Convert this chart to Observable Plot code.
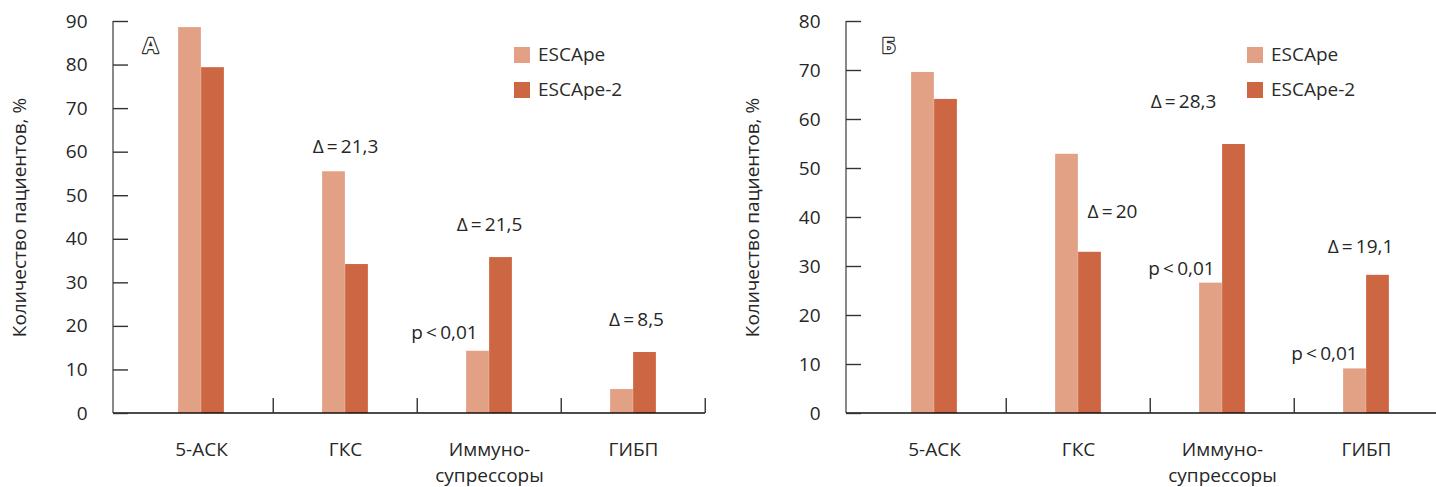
<!DOCTYPE html>
<html><head><meta charset="utf-8">
<script src="https://cdn.jsdelivr.net/npm/d3@7"></script>
<script src="https://cdn.jsdelivr.net/npm/@observablehq/plot@0.6"></script>
<style>
body{margin:0;background:#fff;overflow:hidden;font-family:"Open Sans",sans-serif;}
#wrap{position:relative;width:1436px;height:487px;overflow:hidden;}
.panel{position:absolute;top:0;width:733px;height:487px;}
.lg{position:absolute;font-size:19px;color:#2b2b2b;line-height:16px;white-space:nowrap;}
.sw{position:absolute;width:16px;height:16px;}
</style></head><body><div id="wrap"></div>
<script>
const categories = ["5-АСК", "ГКС", "Иммуно-\nсупрессоры", "ГИБП"];
const seriesNames = ["ESCApe", "ESCApe-2"];
const colors = ["#E2A185", "#CC6643"];

// Panel А
const escapeA  = [88.6, 55.5, 14.3, 5.5];
const escape2A = [79.4, 34.2, 35.8, 14.0];
const yTicksA  = [0, 10, 20, 30, 40, 50, 60, 70, 80, 90];
const notesA = [
  {cat: "ГКС", y: 61.3, text: "Δ\u2009=\u200921,3", dx: 0},
  {cat: "Иммуно-\nсупрессоры", y: 43.4, text: "Δ\u2009=\u200921,5", dx: 0},
  {cat: "Иммуно-\nсупрессоры", y: 18.4, text: "p\u2009<\u20090,01", dx: -45},
  {cat: "ГИБП", y: 21.6, text: "Δ\u2009=\u20098,5", dx: 3}
];

// Panel Б
const escapeB  = [69.6, 52.9, 26.6, 9.1];
const escape2B = [64.1, 32.9, 54.9, 28.2];
const yTicksB  = [0, 10, 20, 30, 40, 50, 60, 70, 80];
const notesB = [
  {cat: "ГКС", y: 41.2, text: "Δ\u2009=\u200920", dx: 34},
  {cat: "Иммуно-\nсупрессоры", y: 63.5, text: "Δ\u2009=\u200928,3", dx: -39},
  {cat: "Иммуно-\nсупрессоры", y: 29.6, text: "p\u2009<\u20090,01", dx: -41},
  {cat: "ГИБП", y: 12.2, text: "p\u2009<\u20090,01", dx: -42},
  {cat: "ГИБП", y: 34.1, text: "Δ\u2009=\u200919,1", dx: -6}
];

const W = 733, H = 487, ML = 128, MR = 28, MT = 21, MB = 74;
const BAR = 23;
const TEXT = "#262626";

function axesLines(yMax) {
  return (index, scales, values, dims) => {
    const g = d3.create("svg:g");
    const bw = (dims.width - dims.marginLeft - dims.marginRight) / categories.length;
    const x0 = dims.marginLeft - 15;
    const y0 = scales.y(0), y1 = scales.y(yMax);
    g.append("line").attr("x1", x0).attr("x2", x0).attr("y1", y0).attr("y2", y1)
      .attr("stroke", "#6b6b6b").attr("stroke-width", 1.6);
    g.append("line").attr("x1", x0).attr("x2", dims.width - dims.marginRight).attr("y1", y0).attr("y2", y0)
      .attr("stroke", "#111").attr("stroke-width", 1.6);
    for (const c of categories) {
      const xb = scales.x(c) + bw;
      g.append("line").attr("x1", xb).attr("x2", xb).attr("y1", y0).attr("y2", y0 - 15)
        .attr("stroke", "#333").attr("stroke-width", 1.4);
    }
    return g.node();
  };
}

function panel(vals1, vals2, yTicks, notes, letter, letterDx) {
  const yMax = yTicks[yTicks.length - 1];
  const rows1 = categories.map((c, i) => ({cat: c, value: vals1[i]}));
  const rows2 = categories.map((c, i) => ({cat: c, value: vals2[i]}));
  const bw = (W - ML - MR) / categories.length;
  return Plot.plot({
    width: W, height: H, marginLeft: ML, marginRight: MR, marginTop: MT, marginBottom: MB,
    style: {fontFamily: "'Open Sans', sans-serif", color: TEXT, background: "transparent"},
    x: {domain: categories, padding: 0},
    y: {domain: [0, yMax]},
    marks: [
      Plot.barY(rows1, {x: "cat", y: "value", fill: colors[0], insetLeft: bw / 2 - BAR, insetRight: bw / 2}),
      Plot.barY(rows2, {x: "cat", y: "value", fill: colors[1], insetLeft: bw / 2, insetRight: bw / 2 - BAR}),
      axesLines(yMax),
      Plot.axisY({ticks: yTicks, tickSize: 15, tickPadding: 26, label: null, fontSize: 19, stroke: "#333", strokeWidth: 1.4}),
      Plot.axisX({tickSize: 0, tickPadding: 24, label: null, fontSize: 19, lineHeight: 1.36}),
      Plot.text(["Количество пациентов, %"], {frameAnchor: "left", dx: -109, rotate: -90, fontSize: 19, fill: TEXT, textAnchor: "middle", lineAnchor: "middle"}),
      Plot.text([letter], {frameAnchor: "top-left", dx: letterDx, dy: 24, fontSize: 22, fontWeight: "bold", fill: "white", stroke: "#333", strokeWidth: 2.4, textAnchor: "middle", lineAnchor: "middle"}),
      ...notes.map(n => Plot.text([n], {x: "cat", y: "y", text: "text", dx: n.dx, fontSize: 19, fill: TEXT, lineAnchor: "middle"}))
    ]
  });
}

function legend(div) {
  seriesNames.forEach((s, i) => {
    const sw = document.createElement("div");
    sw.className = "sw";
    sw.style.left = "514px"; sw.style.top = (47 + i * 35) + "px"; sw.style.background = colors[i];
    div.appendChild(sw);
    const t = document.createElement("div");
    t.className = "lg";
    t.style.left = "538px"; t.style.top = (46 + i * 35) + "px";
    t.textContent = s;
    div.appendChild(t);
  });
}

const wrap = document.getElementById("wrap");
[[escapeA, escape2A, yTicksA, notesA, "А", 22, 0], [escapeB, escape2B, yTicksB, notesB, "Б", 27, 733]].forEach(([a, b, t, n, l, ldx, left]) => {
  const div = document.createElement("div");
  div.className = "panel";
  div.style.left = left + "px";
  div.appendChild(panel(a, b, t, n, l, ldx));
  legend(div);
  wrap.appendChild(div);
});
</script>
</body></html>
